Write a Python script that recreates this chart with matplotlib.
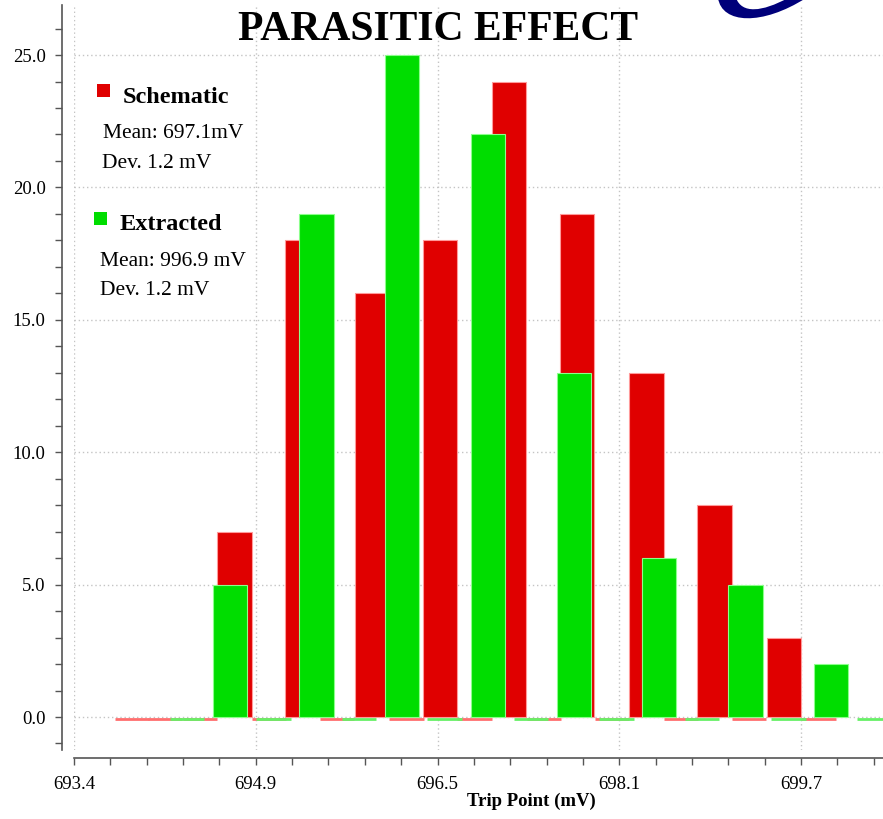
import matplotlib
matplotlib.use("Agg")
import numpy as np
import matplotlib.pyplot as plt
from matplotlib.patches import Rectangle, PathPatch
from matplotlib.path import Path
from matplotlib.ticker import MultipleLocator, FixedLocator

# histogram bins (bin centers in mV) and counts
schematic_bins = [693.90, 694.19, 694.49, 694.79, 695.09, 695.38, 695.68,
                  695.98, 696.28, 696.57, 696.87, 697.17, 697.47, 697.76,
                  698.06, 698.36, 698.66, 698.95, 699.25, 699.55, 699.85]
schematic_counts = [0, 0, 0, 7, 0, 18, 0, 16, 0, 18, 0, 24, 0, 19, 0, 13, 0, 8, 0, 3, 0]

extracted_bins = [694.38, 694.75, 695.13, 695.50, 695.87, 696.24, 696.61,
                  696.99, 697.36, 697.73, 698.10, 698.47, 698.84, 699.22,
                  699.59, 699.96, 700.33]
extracted_counts = [0, 5, 0, 19, 0, 25, 0, 22, 0, 13, 0, 6, 0, 5, 0, 2, 0]

x_ticks = [693.4, 694.975, 696.55, 698.125, 699.7]
x_tick_labels = ["693.4", "694.9", "696.5", "698.1", "699.7"]
y_ticks = [0, 5, 10, 15, 20, 25]
y_tick_labels = ["0.0", "5.0", "10.0", "15.0", "20.0", "25.0"]

legend_info = [
    ("Schematic", "Mean: 697.1mV", "Dev. 1.2 mV"),
    ("Extracted", "Mean: 996.9 mV", "Dev. 1.2 mV"),
]

W, H = 883, 819
SERIF = "Liberation Serif"
RED, RED_EDGE, RED_ZERO = "#e00000", "#ff9a9a", "#ff6e6e"
GREEN, GREEN_EDGE, GREEN_ZERO = "#00dd00", "#8cff8c", "#66f066"
BAR_W = 0.2975


def fx(px):
    return px / W


def fy(py):
    return 1 - py / H


fig = plt.figure(figsize=(W / 100, H / 100), dpi=100)
ax = fig.add_axes([fx(74), fy(750), 1 - fx(74), (750 - 5) / H])


def draw_hist(bins, counts, fill, edge, zero_col):
    nz = [(b, c) for b, c in zip(bins, counts) if c > 0]
    z = [b for b, c in zip(bins, counts) if c == 0]
    ax.bar([b for b, _ in nz], [c for _, c in nz], width=BAR_W, color=fill,
           edgecolor=edge, linewidth=0.8, zorder=3)
    ax.bar(z, [0] * len(z), bottom=-0.07, width=BAR_W, color=zero_col,
           edgecolor=zero_col, linewidth=2.0, zorder=3)


draw_hist(schematic_bins, schematic_counts, RED, RED_EDGE, RED_ZERO)
draw_hist(extracted_bins, extracted_counts, GREEN, GREEN_EDGE, GREEN_ZERO)

ax.set_xlim(693.4, 700.41)
ax.set_ylim(-1.246, 26.89)

ax.xaxis.set_major_locator(FixedLocator(x_ticks))
ax.set_xticklabels(x_tick_labels)
ax.xaxis.set_minor_locator(FixedLocator(np.arange(693.4, 700.5, 0.315)))
ax.yaxis.set_major_locator(FixedLocator(y_ticks))
ax.set_yticklabels(y_tick_labels)
ax.yaxis.set_minor_locator(MultipleLocator(1))

ax.grid(True, which="major", color="#c4c4c4", linestyle=(0, (1, 2)),
        linewidth=1.0, zorder=0)
ax.set_axisbelow(True)

for s in ["top", "right"]:
    ax.spines[s].set_visible(False)
ax.spines["left"].set_position(("outward", 9))
ax.spines["bottom"].set_position(("outward", 6))
for s in ["left", "bottom"]:
    ax.spines[s].set_color("#555555")
    ax.spines[s].set_linewidth(1.2)

ax.tick_params(which="both", direction="out", color="#555555", width=1.0,
               length=5)
ax.tick_params(axis="y", which="major", pad=6.5)
ax.tick_params(axis="x", which="major", pad=7.5)
for lab in ax.get_xticklabels() + ax.get_yticklabels():
    lab.set_fontfamily(SERIF)
    lab.set_fontsize(13.5)
    lab.set_color("black")

ax.set_xlabel("Trip Point (mV)", fontfamily=SERIF, fontsize=13.5,
              fontweight="bold", ha="left")
ax.xaxis.set_label_coords((467 - 74) / (W - 74), -0.057)

# title
fig.text(fx(438), fy(40), "PARASITIC EFFECT", fontfamily=SERIF, fontsize=30,
         fontweight="bold", ha="center", va="baseline")

# legend block
legend_rows = [
    (RED, (97, 84), (123, 103), (103, 138), (102, 168)),
    (GREEN, (94, 212), (120, 230), (100, 266), (100, 295)),
]
for (col, sq, t1, t2, t3), (name, mean, dev) in zip(legend_rows, legend_info):
    fig.add_artist(Rectangle((fx(sq[0]), fy(sq[1] + 13)), 13 / W, 13 / H,
                             transform=fig.transFigure, facecolor=col,
                             edgecolor="none"))
    fig.text(fx(t1[0]), fy(t1[1]), name, fontfamily=SERIF, fontsize=17.5,
             fontweight="bold", va="baseline")
    fig.text(fx(t2[0]), fy(t2[1]), mean, fontfamily=SERIF, fontsize=15.5,
             va="baseline")
    fig.text(fx(t3[0]), fy(t3[1]), dev, fontfamily=SERIF, fontsize=15.5,
             va="baseline")

# logo fragment in top right corner
pts = [(718, -2), (722, 24), (762, 26), (806, -2), (788, -2),
       (762, 12), (742, 14), (736, -2), (718, -2)]
codes = [Path.MOVETO, Path.CURVE4, Path.CURVE4, Path.CURVE4, Path.LINETO,
         Path.CURVE4, Path.CURVE4, Path.CURVE4, Path.CLOSEPOLY]
logo = Path([(fx(a), fy(b)) for a, b in pts], codes)
fig.add_artist(PathPatch(logo, transform=fig.transFigure, facecolor="#00007a",
                         edgecolor="none"))

fig.savefig("out.png", dpi=100)
